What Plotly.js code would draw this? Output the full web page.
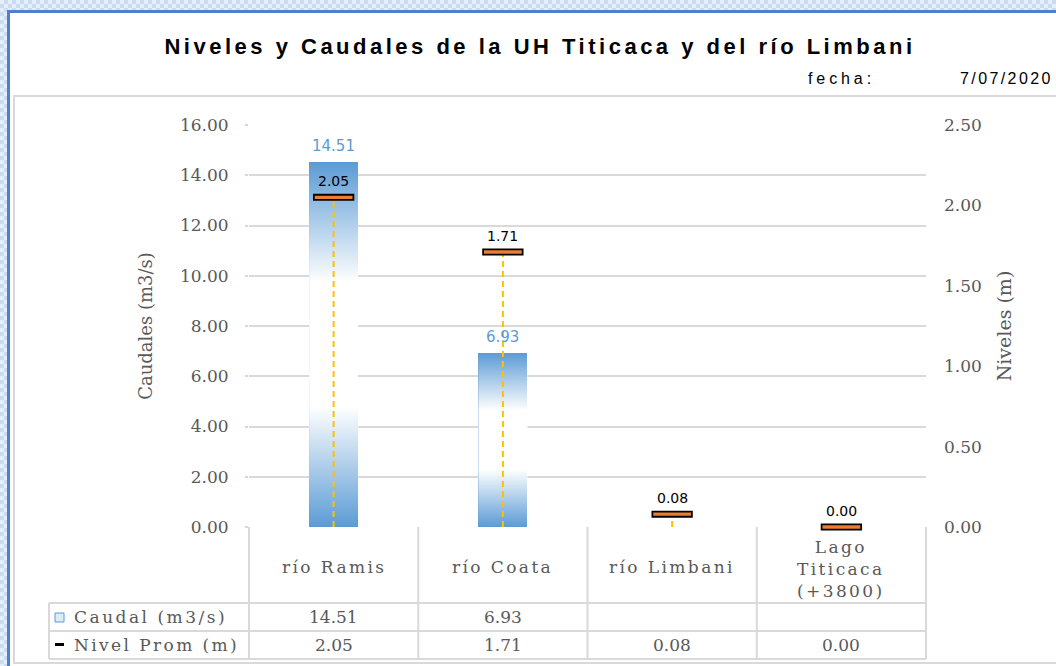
<!DOCTYPE html>
<html><head><meta charset="utf-8">
<script src="https://cdn.plot.ly/plotly-3.0.1.min.js"></script>
<style>
html,body{margin:0;padding:0;width:1056px;height:666px;overflow:hidden;}
body{position:relative;background:#DCE9F7 repeating-conic-gradient(#CADCF2 0 25%, #E4EEF9 0 50%) 0 0/8px 8px;}
#frame{position:absolute;left:7px;top:10px;width:1100px;height:700px;background:#fff;border-left:3px solid #4F81C7;border-top:3px solid #4F81C7;}
#inner{position:absolute;left:13px;top:95px;width:1100px;height:565px;border:2px solid #D9D9D9;border-right:none;}
#chart{position:absolute;left:0;top:0;width:1056px;height:666px;}
</style></head>
<body><div id="frame"></div><div id="inner"></div><div id="chart"></div>
<script>
// ---- data ----
const categories = ['río Ramis', 'río Coata', 'río Limbani', 'Lago Titicaca (+3800)'];
const categoryLabels = ['río Ramis', 'río Coata', 'río Limbani', 'Lago<br>Titicaca<br>(+3800)'];
const caudal = [14.51, 6.93, null, null];      // Caudal (m3/s)
const nivel = [2.05, 1.71, 0.08, 0.00];         // Nivel Prom (m)
const seriesNames = ['Caudal (m3/s)', 'Nivel Prom (m)'];
const chartTitle = 'Niveles y Caudales de la UH Titicaca y del río Limbani';
const fechaLabel = 'fecha:';
const fechaValue = '7/07/2020';

// ---- layout helpers ----
const W = 1056, H = 666;
const L = 249, R = 926, T = 125, B = 527;
const px2x = x => (x - L) / (R - L);
const px2y = y => (B - y) / (B - T);
const n = categories.length;
const idx = categories.map((c, i) => i);
const barW = 0.29;
const serif = 'DejaVu Serif, Liberation Serif, serif';
const sans = 'DejaVu Sans, Verdana, sans-serif';
const arial = 'Liberation Sans, Arial, sans-serif';
const grey = '#595959';
const lineGrey = '#D9D9D9';
const spaced = (t, s) => '<span style="letter-spacing:' + s + 'px">' + t + '</span>';
const spacedLines = (t, s) => t.split('<br>').map(p => spaced(p, s)).join('<br>');

const traces = [];
traces.push({
  type: 'bar', name: seriesNames[0], x: idx, y: caudal, width: barW,
  marker: {color: '#5B9BD5', line: {width: 0}}, yaxis: 'y', hoverinfo: 'y'
});
// white gradient overlay on each bar
idx.forEach(i => {
  const v = caudal[i];
  if (v === null) return;
  traces.push({
    type: 'scatter', mode: 'none', showlegend: false, hoverinfo: 'skip',
    x: [i - barW / 2, i + barW / 2, i + barW / 2, i - barW / 2, i - barW / 2],
    y: [0, 0, v, v, 0], fill: 'toself', yaxis: 'y',
    fillgradient: {type: 'vertical', colorscale: [
      [0, 'rgba(255,255,255,0)'], [0.33, 'rgba(255,255,255,1)'],
      [0.67, 'rgba(255,255,255,1)'], [1, 'rgba(255,255,255,0)']]}
  });
});
// dashed drop lines for nivel
const dx = [], dy = [];
idx.forEach(i => { dx.push(i, i, null); dy.push(0, nivel[i], null); });
traces.push({
  type: 'scatter', mode: 'lines', x: dx, y: dy, yaxis: 'y2', hoverinfo: 'skip',
  line: {color: '#FFC000', width: 2, dash: '6px,4px'}, showlegend: false
});
// nivel markers: black outline + orange fill
traces.push({
  type: 'scatter', mode: 'markers', name: seriesNames[1], x: idx, y: nivel, yaxis: 'y2',
  cliponaxis: false,
  marker: {symbol: 'line-ew', size: 29.5, color: '#000', line: {color: '#000', width: 7}},
  hoverinfo: 'y'
});
traces.push({
  type: 'scatter', mode: 'markers', x: idx, y: nivel, yaxis: 'y2', showlegend: false,
  cliponaxis: false,
  marker: {symbol: 'line-ew', size: 27, color: '#ED7D31', line: {color: '#ED7D31', width: 3.4}},
  hoverinfo: 'skip'
});

const annotations = [];
idx.forEach(i => {
  if (caudal[i] !== null) annotations.push({
    xref: 'x', yref: 'y', x: i, y: caudal[i], text: caudal[i].toFixed(2), showarrow: false,
    yanchor: 'bottom', yshift: 5, font: {family: sans, size: 15, color: '#5B9BD5'}
  });
  annotations.push({
    xref: 'x', yref: 'y2', x: i, y: nivel[i], text: nivel[i].toFixed(2), showarrow: false,
    yanchor: 'bottom', yshift: 6, font: {family: sans, size: 14, color: '#000'}
  });
  // table
  const multi = categoryLabels[i].indexOf('<br>') >= 0;
  annotations.push({
    xref: 'x', yref: 'paper', x: i, y: px2y(multi ? 569 : 567), text: spacedLines(categoryLabels[i], 2.4),
    showarrow: false, yanchor: 'middle', font: {family: serif, size: 17, color: grey}
  });
  annotations.push({
    xref: 'x', yref: 'paper', x: i, y: px2y(617), text: caudal[i] === null ? '' : caudal[i].toFixed(2),
    showarrow: false, yanchor: 'middle', font: {family: serif, size: 17, color: grey}
  });
  annotations.push({
    xref: 'x', yref: 'paper', x: i, y: px2y(645), text: nivel[i].toFixed(2),
    showarrow: false, yanchor: 'middle', font: {family: serif, size: 17, color: grey}
  });
});
annotations.push({xref: 'paper', yref: 'paper', x: px2x(72), y: px2y(617), text: spaced(seriesNames[0], 2.5),
  showarrow: false, xanchor: 'left', yanchor: 'middle', font: {family: serif, size: 17, color: grey}});
annotations.push({xref: 'paper', yref: 'paper', x: px2x(72), y: px2y(645), text: spaced(seriesNames[1], 2.4),
  showarrow: false, xanchor: 'left', yanchor: 'middle', font: {family: serif, size: 17, color: grey}});
annotations.push({xref: 'paper', yref: 'paper', x: px2x(806), y: px2y(79), text: spaced(fechaLabel, 3.9),
  showarrow: false, xanchor: 'left', yanchor: 'middle', font: {family: arial, size: 16, color: '#000'}});
annotations.push({xref: 'paper', yref: 'paper', x: px2x(958), y: px2y(79), text: spaced(fechaValue, 2.4),
  showarrow: false, xanchor: 'left', yanchor: 'middle', font: {family: arial, size: 16, color: '#000'}});

const shapes = [];
const ln = (x0, y0, x1, y1) => shapes.push({type: 'line', xref: 'paper', yref: 'paper',
  x0: px2x(x0), y0: px2y(y0), x1: px2x(x1), y1: px2y(y1), line: {color: lineGrey, width: 2}});
ln(49, 603, R, 603); ln(49, 631, R, 631); ln(49, 659, R, 659);
ln(49, 603, 49, 659);
for (let k = 0; k <= n; k++) {
  const xp = k / n;
  shapes.push({type: 'line', xref: 'paper', yref: 'paper', x0: xp, x1: xp, y0: 0, y1: px2y(659),
    line: {color: lineGrey, width: 2}});
}
// legend keys
shapes.push({type: 'rect', xref: 'paper', yref: 'paper', x0: px2x(55), x1: px2x(64), y0: px2y(622), y1: px2y(613),
  fillcolor: '#DDEBF7', line: {color: '#5B9BD5', width: 1}});
shapes.push({type: 'rect', xref: 'paper', yref: 'paper', x0: px2x(55), x1: px2x(64), y0: px2y(646), y1: px2y(643),
  fillcolor: '#000', line: {width: 0}});

const layout = {
  width: W, height: H,
  margin: {l: L, r: W - R, t: T, b: H - B, pad: 0},
  paper_bgcolor: 'rgba(0,0,0,0)', plot_bgcolor: 'rgba(0,0,0,0)',
  showlegend: false, bargap: 0,
  title: {text: spaced(chartTitle, 3.5), xref: 'container', yref: 'container', x: 540 / W, xanchor: 'center',
    y: 1 - 46 / H, yanchor: 'middle',
    font: {family: arial, size: 22, color: '#000', weight: 'bold'}},
  xaxis: {type: 'linear', range: [-0.5, n - 0.5], showgrid: false, zeroline: false,
    showticklabels: false, ticks: '', showline: false, fixedrange: true},
  yaxis: {range: [0, 16], dtick: 2, tick0: 0, tickformat: '.2f', showgrid: true, gridcolor: lineGrey,
    gridwidth: 2, zeroline: false, showline: false, ticks: 'outside', ticklen: 3, tickcolor: lineGrey,
    tickwidth: 2, ticklabelstandoff: 13, tickfont: {family: serif, size: 17, color: grey},
    title: {text: 'Caudales (m3/s)', font: {family: serif, size: 18, color: grey}, standoff: 22}},
  yaxis2: {overlaying: 'y', side: 'right', range: [0, 2.5], dtick: 0.5, tick0: 0, tickformat: '.2f',
    showgrid: false, zeroline: false, showline: false, ticks: '', ticklabelstandoff: 17,
    tickfont: {family: serif, size: 17, color: grey},
    title: {text: 'Niveles (m)', font: {family: serif, size: 19, color: grey}, standoff: 16}},
  shapes: shapes, annotations: annotations
};
Plotly.newPlot('chart', traces, layout, {displayModeBar: false, staticPlot: true});
</script>
</body></html>
